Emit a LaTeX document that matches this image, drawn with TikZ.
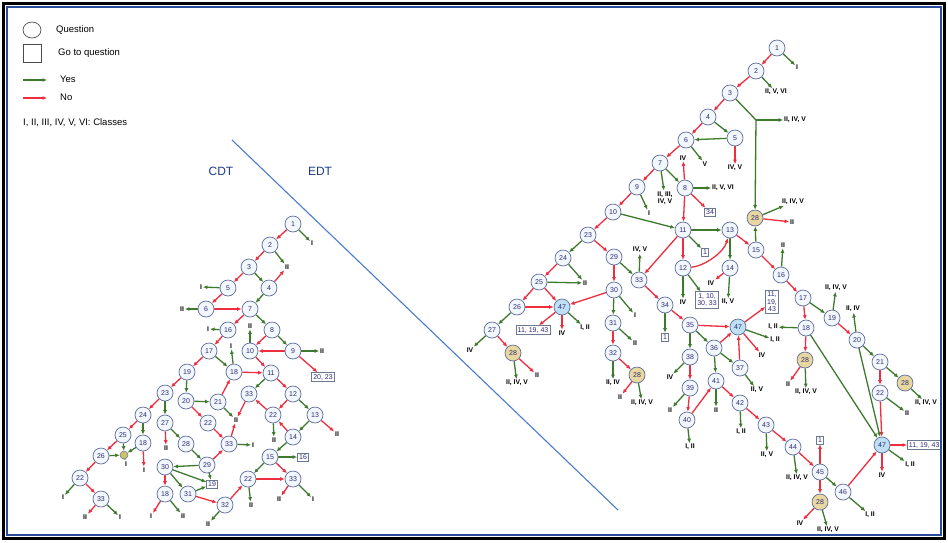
\documentclass[tikz,border=0pt]{standalone}
\usepackage{fontspec}
\setmainfont{Liberation Sans}
\usetikzlibrary{arrows.meta,shapes.geometric}
\pgfdeclarelayer{background}
\pgfsetlayers{background,main}
\newcommand\qnumfont{\fontsize{7}{7.5}\selectfont}
\newcommand\clsfont{\fontsize{6.8}{7.3}\selectfont\bfseries}
\newcommand\legfont{\fontsize{9.5}{11}\selectfont}
\newcommand\edtfont{\fontsize{12}{14}\selectfont}
\definecolor{yesc}{HTML}{3D7A2E}
\definecolor{noc}{HTML}{EE2D3F}
\definecolor{qline}{HTML}{5E6C9E}
\definecolor{qfill}{HTML}{F2F7FC}
\definecolor{qtext}{HTML}{2E2A7A}
\definecolor{tanfill}{HTML}{E8D79E}
\definecolor{bluefill}{HTML}{BEE0F2}
\definecolor{boxline}{HTML}{6A7890}
\definecolor{framebl}{HTML}{2A4A9A}
\definecolor{diagc}{HTML}{4A7CCC}
\definecolor{cdtc}{HTML}{1E3A8A}
\definecolor{juncc}{HTML}{C9C46A}
\begin{document}
\begin{tikzpicture}[x=1pt,y=-1pt,
  q/.style={circle,draw=qline,line width=0.7pt,fill=qfill,inner sep=0pt,minimum size=16pt,font=\qnumfont,text=qtext},
  qt/.style={q,fill=tanfill},
  qb/.style={q,fill=bluefill},
  gq/.style={draw=boxline,line width=0.6pt,fill=white,inner sep=1.6pt,font=\qnumfont,text=qtext,align=center},
  cl/.style={font=\clsfont,inner sep=0.8pt,text=black,align=center},
  yes/.style={draw=yesc,line width=1.3pt,-{Latex[length=4.5pt,width=4pt]}},
  no/.style={draw=noc,line width=1.3pt,-{Latex[length=4.5pt,width=4pt]}},
  legtext/.style={anchor=west,font=\legfont,inner sep=0pt}
]
\useasboundingbox (0,0) rectangle (948,542);

% ---------------- legend ----------------
\node[ellipse,draw=black!70,line width=0.7pt,minimum width=18pt,minimum height=16pt,inner sep=0pt] (legq) at (32,30) {};
\node[legtext] (legqt) at (56,30) {Question};
\node[draw=black!70,line width=0.7pt,minimum size=18pt,inner sep=0pt] (legb) at (32,53) {};
\node[legtext] (legbt) at (58,53) {Go to question};
\coordinate (ly1) at (23,80); \coordinate (ly2) at (47,80);
\draw[yes] (ly1) -- (ly2);
\node[legtext] (legyt) at (60,79) {Yes};
\coordinate (ln1) at (23,98); \coordinate (ln2) at (47,98);
\draw[no] (ln1) -- (ln2);
\node[legtext] (legnt) at (60,97) {No};
\node[legtext] (legc) at (23,123) {I, II, III, IV, V, VI: Classes};

% ---------------- CDT / EDT ----------------
\node[font=\edtfont,text=cdtc] (cdt) at (221,171) {CDT};
\node[font=\edtfont,text=cdtc] (edt) at (320,171) {EDT};
\coordinate (d1) at (232,140); \coordinate (d2) at (618,510);
\draw[diagc,line width=1.1pt] (d1) -- (d2);

% ---------------- CDT tree ----------------
\node[q] (a1) at (293,224) {1};
\node[q] (a2) at (270,245) {2};
\node[q] (a3) at (249,267) {3};
\node[q] (a4) at (269,288) {4};
\node[q] (a5) at (228,288) {5};
\node[q] (a6) at (206,309) {6};
\node[q] (a7) at (250,309) {7};
\node[q] (a16) at (228,330) {16};
\node[q] (a8) at (272,330) {8};
\node[q] (a17) at (209,351) {17};
\node[q] (a10) at (250,351) {10};
\node[q] (a9) at (293,351) {9};
\node[q] (a19) at (187,372) {19};
\node[q] (a18a) at (234,372) {18};
\node[q] (a11) at (271,373) {11};
\node[gq] (ab2023) at (323,377) {20, 23};
\node[q] (a20) at (186,401) {20};
\node[q] (a21) at (218,402) {21};
\node[q] (a33a) at (249,394) {33};
\node[q] (a12) at (293,394) {12};
\node[q] (a23) at (165,393) {23};
\node[q] (a24) at (143,415) {24};
\node[q] (a27) at (165,423) {27};
\node[q] (a22a) at (208,423) {22};
\node[q] (a13) at (315,415) {13};
\node[q] (a22b) at (273,415) {22};
\node[q] (a14) at (293,437) {14};
\node[q] (a25) at (123,435) {25};
\node[q] (a18b) at (143,443) {18};
\node[q] (a28) at (186,444) {28};
\node[q] (a33b) at (229,444) {33};
\node[circle,draw=qline,line width=0.5pt,fill=juncc,minimum size=8pt,inner sep=0pt] (aj) at (124,455) {};
\node[q] (a26) at (101,456) {26};
\node[q] (a15) at (270,457) {15};
\node[gq] (ab16) at (303,457) {16};
\node[q] (a30) at (165,467) {30};
\node[q] (a29) at (207,465) {29};
\node[q] (a22c) at (80,478) {22};
\node[q] (a22d) at (248,479) {22};
\node[q] (a33c) at (293,479) {33};
\node[gq] (ab19) at (212,484) {19};
\node[q] (a18c) at (165,494) {18};
\node[q] (a31) at (188,494) {31};
\node[q] (a33d) at (101,499) {33};
\node[q] (a32) at (225,505) {32};

\node[cl] (al1) at (312,243) {I};
\node[cl] (al2) at (287,267) {II};
\node[cl] (al5) at (201,287) {I};
\node[cl] (al6) at (182,309) {II};
\node[cl] (al16) at (208,329) {I};
\node[cl] (al10) at (250,326) {II};
\node[cl] (al9) at (322,351) {II};
\node[cl] (al18) at (231,346) {I};
\node[cl] (al13) at (337,434) {II};
\node[cl] (al22b) at (274,440) {II};
\node[cl] (aj33) at (236,420) {II};
\node[cl] (al33b) at (253,445) {I};
\node[cl] (al27) at (166,448) {II};
\node[cl] (al18b) at (144,470) {I};
\node[cl] (alj) at (126,464) {I};
\node[cl] (al22c) at (63,497) {I};
\node[cl] (al33d1) at (85,517) {II};
\node[cl] (al33d2) at (120,517) {I};
\node[cl] (al18c1) at (151,516) {I};
\node[cl] (al18c2) at (183,516) {II};
\node[cl] (al32) at (208,524) {II};
\node[cl] (al22d) at (251,505) {II};
\node[cl] (al33c1) at (279,499) {II};
\node[cl] (al33c2) at (313,499) {I};

% ---------------- EDT tree ----------------
\node[q] (r1) at (777,48) {1};
\node[q] (r2) at (756,71) {2};
\node[q] (r3) at (730,93) {3};
\node[q] (r4) at (708,117) {4};
\node[q] (r5) at (735,138) {5};
\node[q] (r6) at (686,140) {6};
\node[q] (r7) at (660,163) {7};
\node[q] (r8) at (685,188) {8};
\node[q] (r9) at (637,187) {9};
\node[q] (r10) at (613,212) {10};
\node[q] (r11) at (683,230) {11};
\node[q] (r13) at (730,230) {13};
\node[qt] (r28a) at (755,218) {28};
\node[q] (r15) at (756,250) {15};
\node[q] (r23) at (588,235) {23};
\node[q] (r24) at (563,258) {24};
\node[q] (r29) at (614,257) {29};
\node[q] (r12) at (683,268) {12};
\node[q] (r14) at (730,268) {14};
\node[q] (r16) at (781,275) {16};
\node[q] (r25) at (539,282) {25};
\node[q] (r33) at (639,280) {33};
\node[q] (r30) at (614,290) {30};
\node[q] (r17) at (803,298) {17};
\node[q] (r34) at (665,305) {34};
\node[q] (r26) at (517,307) {26};
\node[qb] (r47a) at (562,307) {47};
\node[q] (r19) at (832,318) {19};
\node[q] (r35) at (690,325) {35};
\node[q] (r31) at (613,323) {31};
\node[qb] (r47b) at (738,327) {47};
\node[q] (r18) at (806,328) {18};
\node[q] (r27) at (492,330) {27};
\node[q] (r20) at (857,340) {20};
\node[q] (r36) at (714,348) {36};
\node[q] (r32) at (613,353) {32};
\node[qt] (r28b) at (513,353) {28};
\node[q] (r38) at (690,357) {38};
\node[qt] (r28c) at (805,360) {28};
\node[q] (r21) at (880,362) {21};
\node[q] (r37) at (740,368) {37};
\node[qt] (r28d) at (637,375) {28};
\node[q] (r41) at (716,381) {41};
\node[qt] (r28e) at (905,383) {28};
\node[q] (r39) at (690,388) {39};
\node[q] (r22) at (880,393) {22};
\node[q] (r42) at (740,403) {42};
\node[q] (r40) at (687,420) {40};
\node[q] (r43) at (766,425) {43};
\node[qb] (r47c) at (882,445) {47};
\node[q] (r44) at (793,447) {44};
\node[q] (r45) at (820,472) {45};
\node[q] (r46) at (843,492) {46};
\node[qt] (r28f) at (820,502) {28};

\node[gq] (rb34) at (710,212) {34};
\node[gq] (rb1a) at (705,252) {1};
\node[gq] (rbm) at (707,300) {1, 10,\\30, 33};
\node[gq] (rbt) at (772,302) {11,\\19,\\43};
\node[gq] (rbl) at (533,330) {11, 19, 43};
\node[gq] (rb1b) at (665,337) {1};
\node[gq] (rb1c) at (820,440) {1};
\node[gq,anchor=west] (rbr) at (907,445) {11, 19, 43};

\coordinate (r3k) at (756,120);
\node[cl] (r1l) at (797,67) {I};
\node[cl] (r2l) at (776,92) {II, V, VI};
\node[cl] (r3l) at (795,120) {II, IV, V};
\node[cl] (r8u) at (683,158) {IV};
\node[cl] (r6l) at (705,164) {V};
\node[cl] (r5l) at (735,168) {IV, V};
\node[cl] (r7l) at (665,198) {II, III,\\IV, V};
\node[cl] (r8l) at (723,188) {II, V, VI};
\node[cl] (r9l) at (649,213) {I};
\node[cl] (r28al1) at (793,202) {II, IV, V};
\node[cl] (r28al2) at (792,222) {II};
\node[cl] (r33l) at (640,250) {IV, V};
\node[cl] (r24l) at (585,283) {II};
\node[cl] (r16l) at (783,245) {II};
\node[cl] (r12l) at (683,302) {IV};
\node[cl] (r14l1) at (711,283) {IV};
\node[cl] (r14l2) at (728,302) {II, V};
\node[cl] (r19l) at (836,288) {II, IV, V};
\node[cl] (r18l) at (773,327) {I, II};
\node[cl] (r30l) at (635,315) {I};
\node[cl] (r47al1) at (585,328) {I, II};
\node[cl] (r47al2) at (562,333) {IV};
\node[cl] (r31l) at (635,343) {II};
\node[cl] (r27l) at (470,350) {IV};
\node[cl] (r20l) at (853,309) {II, IV};
\node[cl] (r47bl1) at (775,340) {I, II};
\node[cl] (r47bl2) at (762,355) {IV};
\node[cl] (r38l) at (670,377) {IV};
\node[cl] (r37l) at (757,390) {II, V};
\node[cl] (r28bl1) at (537,375) {II};
\node[cl] (r28bl2) at (517,383) {II, IV, V};
\node[cl] (r32l) at (613,383) {II, IV};
\node[cl] (r28dl1) at (620,397) {II};
\node[cl] (r28dl2) at (642,403) {II, IV, V};
\node[cl] (r28cl1) at (788,384) {II};
\node[cl] (r28cl2) at (806,392) {II, IV, V};
\node[cl] (r28el) at (926,403) {II, IV, V};
\node[cl] (r39l) at (670,410) {II};
\node[cl] (r41l) at (716,410) {II};
\node[cl] (r22l) at (907,413) {II};
\node[cl] (r42l) at (741,432) {I, II};
\node[cl] (r40l) at (690,447) {I, II};
\node[cl] (r43l) at (767,455) {II, V};
\node[cl] (r47cl1) at (910,465) {I, II};
\node[cl] (r47cl2) at (882,475) {IV};
\node[cl] (r44l) at (797,478) {II, IV, V};
\node[cl] (r46l) at (870,515) {I, II};
\node[cl] (r28fl1) at (800,523) {IV};
\node[cl] (r28fl2) at (828,530) {II, IV, V};

\begin{pgfonlayer}{background}
\fill[white] (0,0) rectangle (948,542);
% CDT edges
\foreach \s/\t in {a1/a2,a2/a3,a4/al2,a3/a5,a5/a6,a6/a7,a7/a16,a16/a17,a8/a10,a10/a11,a9/a10,a9/ab2023,a17/a19,a18a/a11,a11/a12,a19/a23,a20/a22a,a21/a18a,a33a/aj33,a33b/aj33,a22a/a33b,a12/a22b,a13/al13,a22b/a33a,a14/a22b,a23/a24,a24/a25,a27/al27,a25/a26,a18b/al18b,a26/a22c,a22c/a33d,a33d/al33d1,a29/a33b,a30/a18c,a18c/al18c1,a31/a32,a32/a22d,a22d/a33c,a15/a33c,a33c/al33c1}
  \draw[no] (\s) -- (\t);
\foreach \s/\t in {a1/al1,a2/al2,a3/a4,a4/a7,a5/al5,a6/al6,a7/a8,a16/al16,a10/al10,a8/a9,a9/al9,a17/a18a,a18a/al18,a11/a33a,a19/a20,a20/a21,a21/aj33,a12/a13,a13/a14,a22b/al22b,a14/a15,a33b/al33b,a23/a27,a24/a18b,a27/a28,a25/aj,a18b/aj,a26/aj,aj/alj,a22c/al22c,a33d/al33d2,a28/a29,a29/a30,a29/ab19,a30/a31,a30/ab19,a18c/al18c2,a31/ab19,a32/al32,a22d/al22d,a15/ab16,a15/a22d,a33c/al33c2}
  \draw[yes] (\s) -- (\t);
% EDT edges
\foreach \s/\t in {r1/r2,r2/r3,r3/r4,r4/r6,r5/r5l,r6/r7,r7/r9,r8/r8u,r8/rb34,r8/r11,r9/r10,r10/r23,r11/r12,r11/r33,r13/r15,r14/r14l1,r15/r16,r28a/r28al2,r16/r17,r17/r18,r19/r20,r18/r28c,r21/r22,r22/r47c,r47c/rbr,r47c/r47cl2,r28c/r28cl1,r23/r29,r24/r25,r25/r26,r25/r47a,r26/r47a,r27/r28b,r28b/r28bl1,r47a/rbl,r47a/r47al2,r29/r30,r33/r34,r30/r47a,r31/r32,r32/r28d,r28d/r28dl1,r34/r35,r35/r47b,r36/r47b,r37/r47b,r47b/rbt,r47b/r47bl2,r38/r39,r39/r40,r40/r41,r41/r42,r42/r43,r43/r44,r44/r45,r45/rb1c,r45/r28f,r46/r47c,r28f/r28fl1}
  \draw[no] (\s) -- (\t);
\foreach \s/\t in {r1/r1l,r2/r2l,r4/r5,r5/r6,r6/r6l,r7/r8,r7/r7l,r8/r8l,r9/r9l,r10/r11,r11/r13,r11/rb1a,r12/r12l,r12/rbm,r13/r14,r14/r14l2,r15/r28a,r28a/r28al1,r16/r16l,r17/r19,r19/r19l,r18/r18l,r18/r47c,r20/r20l,r20/r21,r20/r47c,r21/r28e,r28e/r28el,r22/r22l,r47c/r47cl1,r28c/r28cl2,r23/r24,r24/r24l,r25/r24l,r26/r27,r27/r27l,r28b/r28bl2,r47a/r47al1,r29/r33,r33/r33l,r30/r30l,r30/r31,r31/r31l,r32/r32l,r28d/r28dl2,r34/rb1b,r35/r38,r35/r36,r36/r37,r36/r41,r37/r37l,r47b/r47bl1,r38/r38l,r39/r39l,r40/r40l,r41/r41l,r42/r42l,r43/r43l,r44/r44l,r45/r46,r46/r46l,r28f/r28fl2}
  \draw[yes] (\s) -- (\t);
\draw[yesc,line width=1.3pt] (r3) -- (r3k);
\draw[yes] (r3k) -- (r3l);
\draw[yes] (r3k) -- (r28a);
\draw[no] (r12) .. controls (705,266) and (724,252) .. (r13);
\end{pgfonlayer}

% ---------------- frame ----------------
\draw[black,line width=2.5pt] (3.5,3.5) rectangle (944.5,538.5);
\draw[framebl,line width=1.2pt] (7,7) rectangle (941,535);
\end{tikzpicture}
\end{document}
